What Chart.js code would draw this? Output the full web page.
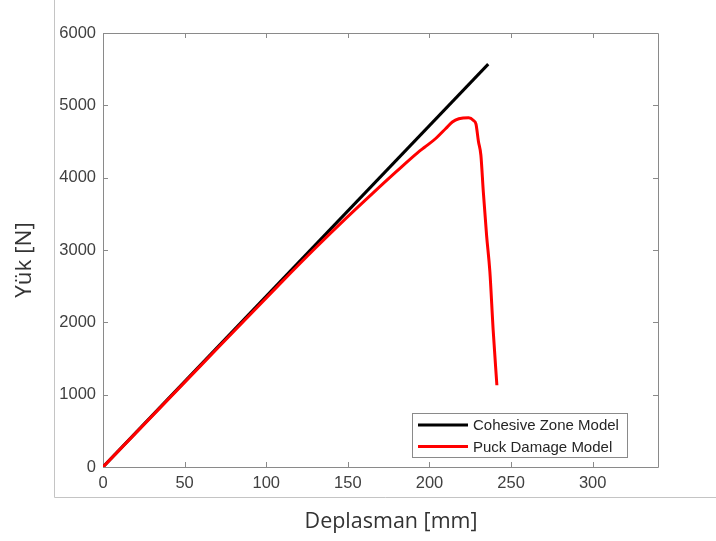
<!DOCTYPE html>
<html>
<head>
<meta charset="utf-8">
<script src="https://cdn.jsdelivr.net/npm/chart.js@4.4.1/dist/chart.umd.min.js"></script>
<style>
  html, body { margin: 0; padding: 0; background: #fff; }
  #wrap { width: 716px; height: 541px; }
</style>
</head>
<body>
<div id="wrap"><canvas id="chart1" width="716" height="541"></canvas></div>
<script>
// values
const seriesNames = ['Cohesive Zone Model', 'Puck Damage Model'];
const cohesiveX = [0, 236];
const cohesiveY = [0, 5570];
const puckX = [0, 60, 110, 130, 148, 165, 180, 193, 197, 204, 210, 214, 218, 224, 227, 228.5, 230, 231.5, 233, 235, 237, 239, 241.3];
const puckY = [0, 1405, 2570, 3025, 3420, 3780, 4090, 4350, 4420, 4545, 4680, 4770, 4815, 4830, 4790, 4740, 4500, 4310, 3800, 3200, 2700, 1900, 1130];
const xTicks = [0, 50, 100, 150, 200, 250, 300];
const yTicks = [0, 1000, 2000, 3000, 4000, 5000, 6000];
const xTitle = 'Deplasman [mm]';
const yTitle = 'Yük [N]';

const axisGray = '#8a8a8a';
const tickText = '#404040';
const sansFont = "'Liberation Sans', Arial, sans-serif";
const titleFont = "'Open Sans', sans-serif";

function toPoints(xs, ys) {
    return xs.map(function (x, i) { return { x: x, y: ys[i] }; });
}

// box with inward ticks on all four sides, outer figure frame, axis titles
const boxPlugin = {
    id: 'boxPlugin',
    beforeDatasetsDraw(chart) {
        const ctx = chart.ctx;
        const a = chart.chartArea;
        const sx = chart.scales.x, sy = chart.scales.y;
        ctx.save();
        // outer frame (left + bottom visible)
        ctx.strokeStyle = '#c4c4c4';
        ctx.lineWidth = 1;
        ctx.beginPath();
        ctx.moveTo(54.5, 0);
        ctx.lineTo(54.5, 497.5);
        ctx.lineTo(716, 497.5);
        ctx.stroke();

        ctx.strokeStyle = axisGray;
        ctx.beginPath();
        ctx.rect(Math.round(a.left) + 0.5, Math.round(a.top) + 0.5,
            Math.round(a.right - a.left), Math.round(a.bottom - a.top));
        ctx.stroke();
        ctx.beginPath();
        sx.ticks.forEach(function (t) {
            const px = Math.round(sx.getPixelForValue(t.value)) + 0.5;
            ctx.moveTo(px, a.bottom); ctx.lineTo(px, a.bottom - 5);
            ctx.moveTo(px, a.top); ctx.lineTo(px, a.top + 5);
        });
        sy.ticks.forEach(function (t) {
            const py = Math.round(sy.getPixelForValue(t.value)) + 0.5;
            ctx.moveTo(a.left, py); ctx.lineTo(a.left + 5, py);
            ctx.moveTo(a.right, py); ctx.lineTo(a.right - 5, py);
        });
        ctx.stroke();

        // axis titles
        ctx.fillStyle = '#333333';
        ctx.textAlign = 'center';
        ctx.textBaseline = 'middle';
        ctx.font = '21.5px ' + titleFont;
        ctx.fillText(xTitle, 391, 522);
        ctx.translate(25, 260);
        ctx.rotate(-Math.PI / 2);
        ctx.font = '22.5px ' + titleFont;
        ctx.fillText(yTitle, 0, 0);
        ctx.restore();
    }
};

// legend drawn inside the axes, lower right
const insideLegend = {
    id: 'insideLegend',
    afterDatasetsDraw(chart) {
        const ctx = chart.ctx;
        const x0 = 412.5, y0 = 413.5, w = 215, h = 44;
        ctx.save();
        ctx.fillStyle = '#fff';
        ctx.fillRect(x0, y0, w, h);
        ctx.strokeStyle = axisGray;
        ctx.lineWidth = 1;
        ctx.strokeRect(x0, y0, w, h);
        ctx.font = '15px ' + sansFont;
        ctx.textBaseline = 'middle';
        chart.data.datasets.forEach(function (ds, i) {
            const cy = 425 + i * 21.5;
            ctx.strokeStyle = ds.borderColor;
            ctx.lineWidth = 3;
            ctx.beginPath();
            ctx.moveTo(418, cy); ctx.lineTo(468, cy);
            ctx.stroke();
            ctx.fillStyle = '#262626';
            ctx.fillText(ds.label, 473, cy + 1);
        });
        ctx.restore();
    }
};

document.addEventListener("DOMContentLoaded", function () {
    const ctx1 = document.getElementById('chart1').getContext('2d');

    new Chart(ctx1, {
        type: 'line',
        data: {
            datasets: [{
                label: seriesNames[0],
                data: toPoints(cohesiveX, cohesiveY),
                borderColor: '#000000',
                borderWidth: 3,
                pointRadius: 0,
                tension: 0,
                order: 1
            }, {
                label: seriesNames[1],
                data: toPoints(puckX, puckY),
                borderColor: '#ff0000',
                borderWidth: 3,
                pointRadius: 0,
                cubicInterpolationMode: 'monotone',
                order: 0
            }]
        },
        options: {
            responsive: false,
            animation: false,
            layout: { padding: { left: 0, top: 33, right: 58, bottom: 0 } },
            plugins: {
                legend: { display: false },
                tooltip: { enabled: false }
            },
            scales: {
                x: {
                    type: 'linear',
                    min: 0,
                    max: 340,
                    afterFit: function (s) { s.height = 74; },
                    afterBuildTicks: function (s) { s.ticks = xTicks.map(function (v) { return { value: v }; }); },
                    grid: { display: false, drawTicks: false },
                    border: { display: false },
                    ticks: {
                        padding: 7,
                        color: tickText,
                        font: { family: sansFont, size: 16.5 },
                        maxRotation: 0,
                        callback: function (v) { return String(v); }
                    }
                },
                y: {
                    type: 'linear',
                    min: 0,
                    max: 6000,
                    afterFit: function (s) { s.width = 103; },
                    afterBuildTicks: function (s) { s.ticks = yTicks.map(function (v) { return { value: v }; }); },
                    grid: { display: false, drawTicks: false },
                    border: { display: false },
                    ticks: {
                        padding: 7,
                        color: tickText,
                        font: { family: sansFont, size: 16.5 },
                        callback: function (v) { return String(v); }
                    }
                }
            }
        },
        plugins: [boxPlugin, insideLegend]
    });
});
</script>
</body>
</html>
